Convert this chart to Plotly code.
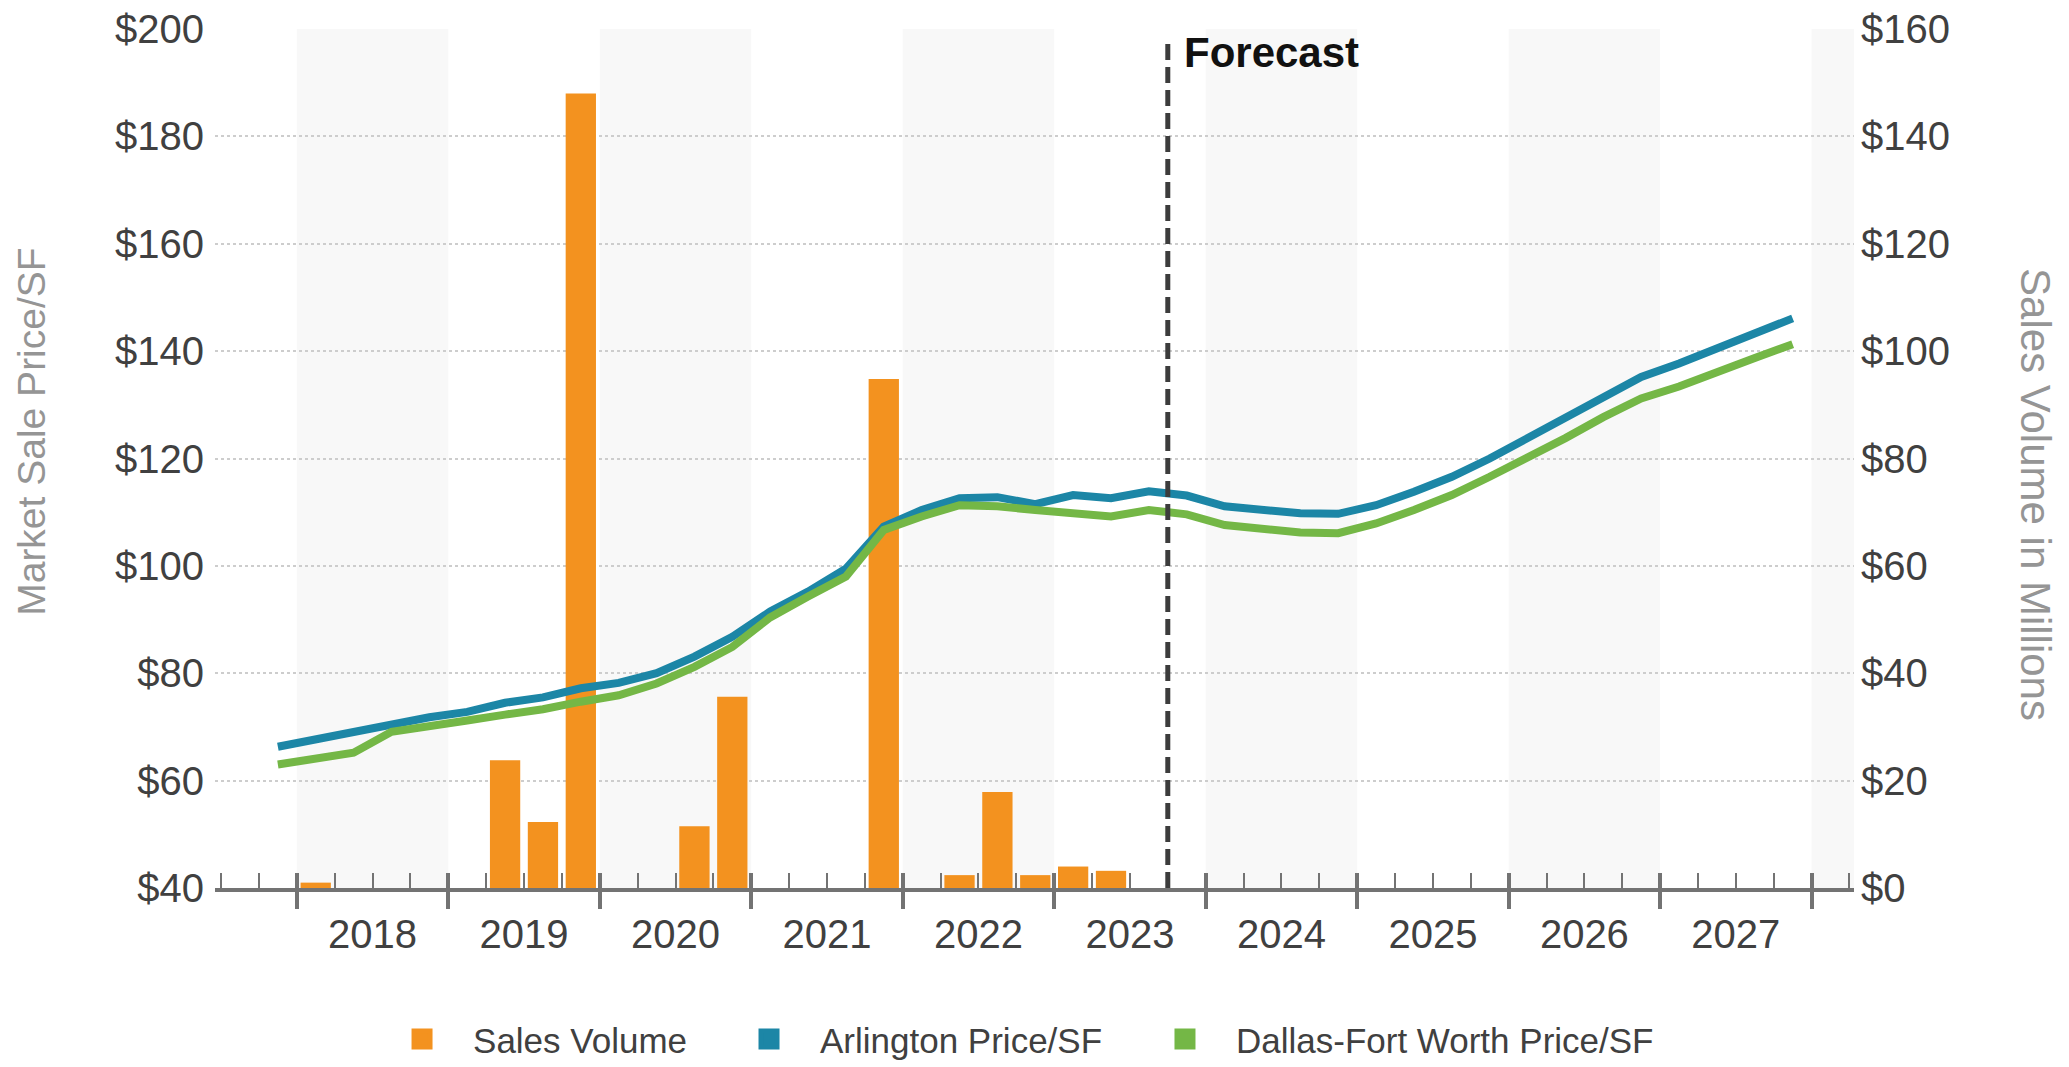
import plotly.graph_objects as go

# ---- data -------------------------------------------------------------
# quarterly points, 2017 Q4 .. 2027 Q4
quarters = [f"{y} Q{q}" for y in range(2017, 2028) for q in range(1, 5)][3:]

arlington_price = [
    66.3, 67.7, 69.0, 70.4, 71.8, 72.8, 74.5, 75.5, 77.2, 78.2,
    80.0, 83.1, 86.8, 91.5, 95.2, 99.5, 107.3, 110.4, 112.6, 112.8,
    111.5, 113.2, 112.6, 113.9, 113.1, 111.1, 110.4, 109.8, 109.7, 111.3,
    113.8, 116.6, 120.0, 123.8, 127.7, 131.5, 135.2, 137.7, 140.5, 143.3,
    146.1,
]

dfw_price = [
    63.0, 64.0, 65.2, 69.1, 70.0, 71.2, 72.3, 73.3, 74.7, 75.9,
    78.1, 81.2, 84.9, 90.4, 94.3, 98.0, 106.7, 109.2, 111.3, 111.1,
    110.4, 109.9, 109.2, 110.4, 109.6, 107.6, 106.9, 106.2, 106.1, 107.9,
    110.4, 113.2, 116.6, 120.0, 123.8, 127.7, 131.2, 133.4, 135.9, 138.7,
    141.3,
]

# sales volume in $ millions, historical quarters 2017 Q4 .. 2023 Q3
sales_quarters = quarters[:24]
sales_volume = [
    None,
    1.0, None, None, None,
    None, 23.8, 12.3, 148.0,
    None, None, 11.5, 35.6,
    None, None, None, 94.8,
    None, 2.4, 17.9, 2.4,
    4.0, 3.2, None,
]

forecast_start = "2023 Q4"
year_labels = [str(y) for y in range(2018, 2028)]
price_ticks = list(range(40, 201, 20))
volume_ticks = list(range(0, 161, 20))

# ---- styling ----------------------------------------------------------
ORANGE = "#F3921F"
BLUE = "#1C86A6"
GREEN = "#74B746"
BAND = "#F8F8F8"
AXIS = "#737373"
TICK_TXT = "#404040"
TITLE_TXT = "#959595"
FONT = "Liberation Sans, Arial, sans-serif"


def q_center(label):
    y, q = label.split(" Q")
    return int(y) + (int(q) - 0.5) / 4


def q_start(label):
    y, q = label.split(" Q")
    return int(y) + (int(q) - 1) / 4


qx = [q_center(q) for q in quarters]
sx = [q_center(q) for q in sales_quarters]
forecast_x = q_start(forecast_start)

first_year = int(year_labels[0])
last_year = int(year_labels[-1])
year_bounds = list(range(first_year, last_year + 2))
mid_years = [int(y) + 0.5 for y in year_labels]
x_range = [first_year - 0.54, last_year + 1.28]
quarter_bounds = [
    first_year - 0.5 + 0.25 * k
    for k in range(int((x_range[1] - (first_year - 0.5)) / 0.25) + 1)
    if (first_year - 0.5 + 0.25 * k) % 1 != 0
]

fig = go.Figure()

fig.add_trace(go.Bar(
    x=sx, y=sales_volume, xaxis="x", yaxis="y",
    marker=dict(color=ORANGE, line=dict(width=0)),
    name="Sales Volume", legendgroup="sales", showlegend=False,
    hovertemplate="%{y:$.1f}M<extra>Sales Volume</extra>",
))
fig.add_trace(go.Scatter(
    x=qx, y=arlington_price, xaxis="x", yaxis="y2", mode="lines",
    line=dict(color=BLUE, width=8),
    name="Arlington Price/SF", legendgroup="arl", showlegend=False,
))
fig.add_trace(go.Scatter(
    x=qx, y=dfw_price, xaxis="x", yaxis="y2", mode="lines",
    line=dict(color=GREEN, width=8),
    name="Dallas-Fort Worth Price/SF", legendgroup="dfw", showlegend=False,
))

# square legend keys, one legend box per series so each can be placed
legend_keys = [
    ("Sales Volume", ORANGE, "sales", "legend", "x2"),
    ("Arlington Price/SF", BLUE, "arl", "legend2", "x3"),
    ("Dallas-Fort Worth Price/SF", GREEN, "dfw", "legend3", "x3"),
]
for name, color, grp, leg, xa in legend_keys:
    fig.add_trace(go.Scatter(
        x=[None], y=[None], xaxis=xa, yaxis="y2", mode="markers",
        marker=dict(symbol="square", size=16, color=color,
                    line=dict(color=color, width=5)),
        name=name, legendgroup=grp, legend=leg, showlegend=True,
        hoverinfo="skip",
    ))

# alternating year bands
shapes = []
for y in year_bounds:
    if y % 2 == 0:
        shapes.append(dict(
            type="rect", xref="x", yref="paper",
            x0=y, x1=min(y + 1, x_range[1]), y0=0, y1=1,
            fillcolor=BAND, line=dict(width=0), layer="below",
        ))
# forecast divider
shapes.append(dict(
    type="line", xref="x", yref="paper",
    x0=forecast_x, x1=forecast_x, y0=0, y1=0.99,
    line=dict(color="#3c3c3c", width=5, dash="16px,7px"), layer="above",
))

legend_style = dict(
    orientation="h", xanchor="left", yref="container", y=0.026,
    yanchor="middle", font=dict(size=35, color=TICK_TXT), itemwidth=92,
    itemsizing="trace", bgcolor="rgba(0,0,0,0)",
)

fig.update_layout(
    width=2069, height=1067,
    margin=dict(l=215, r=215, t=29, b=179, autoexpand=False),
    plot_bgcolor="white", paper_bgcolor="white",
    bargap=0.2,
    font=dict(family=FONT, color=TICK_TXT),
    shapes=shapes,
    xaxis=dict(
        range=x_range, tickmode="array", tickvals=year_bounds,
        showticklabels=False, ticks="outside", ticklen=17, tickwidth=4,
        tickcolor=AXIS, showline=True, linewidth=4, linecolor=AXIS,
        showgrid=False, zeroline=False,
        minor=dict(tickmode="array", tickvals=quarter_bounds, ticks="inside",
                   ticklen=15, tickwidth=2, tickcolor=AXIS, showgrid=False),
    ),
    xaxis2=dict(
        overlaying="x", anchor="y", range=x_range, tickmode="array",
        tickvals=year_bounds, showticklabels=False, ticks="inside",
        ticklen=15, tickwidth=4, tickcolor=AXIS,
        showline=False, showgrid=False, zeroline=False,
    ),
    xaxis3=dict(
        overlaying="x", anchor="y", range=x_range, tickmode="array",
        tickvals=mid_years, ticktext=year_labels, ticks="",
        showline=False, showgrid=False, zeroline=False,
        tickfont=dict(size=40, color=TICK_TXT), ticklabelstandoff=19,
    ),
    yaxis=dict(
        side="right", range=[0, 160], tickmode="array", tickvals=volume_ticks,
        ticktext=[f"${v}" for v in volume_ticks], ticks="", showline=False,
        zeroline=False, showgrid=True, gridcolor="#cdcdcd", griddash="dot",
        gridwidth=2, tickfont=dict(size=40, color=TICK_TXT),
        ticklabelstandoff=6,
    ),
    yaxis2=dict(
        side="left", overlaying="y", range=[40, 200], tickmode="array",
        tickvals=price_ticks, ticktext=[f"${v}" for v in price_ticks],
        ticks="", showline=False, zeroline=False, showgrid=False,
        tickfont=dict(size=40, color=TICK_TXT), ticklabelstandoff=10,
    ),
    legend=dict(legend_style, x=0.0952),
    legend2=dict(legend_style, x=0.3069),
    legend3=dict(legend_style, x=0.5607),
    annotations=[
        dict(text="<b>Forecast</b>", xref="x", yref="paper", x=forecast_x,
             y=0.9732, xanchor="left", yanchor="middle", xshift=14,
             showarrow=False, font=dict(size=42, color="#111111")),
        dict(text="Market Sale Price/SF", xref="paper", yref="paper",
             x=-0.1117, y=0.531, xanchor="center", yanchor="middle",
             textangle=-90, showarrow=False,
             font=dict(size=39, color=TITLE_TXT)),
        dict(text="Sales Volume in Millions", xref="paper", yref="paper",
             x=1.111, y=0.4575, xanchor="center", yanchor="middle",
             textangle=90, showarrow=False,
             font=dict(size=42, color=TITLE_TXT)),
    ],
)

fig.write_html("out.html")
